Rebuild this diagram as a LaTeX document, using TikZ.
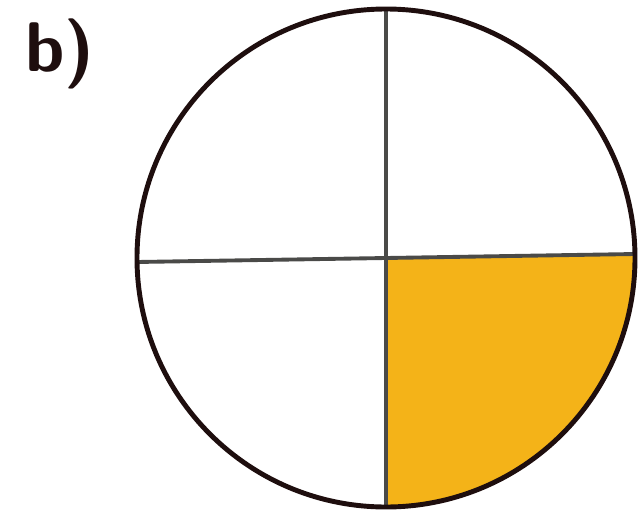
\documentclass[tikz,border=0pt]{standalone}
\usepackage{xcolor}
\usepackage{tikz}
\usetikzlibrary{positioning, calc}

\definecolor{quarterfill}{HTML}{F4B318}
\definecolor{crossline}{HTML}{4A4A48}
\definecolor{rimline}{HTML}{1E0E0E}

\begin{document}
\begin{tikzpicture}[
  x=0.02cm, y=-0.02cm,
  rim/.style={draw=rimline, line width=2.8pt},
  cross/.style={draw=crossline, line width=2.2pt},
  tag/.style={font=\fontsize{40}{40}\selectfont\sffamily\bfseries, text=rimline, inner sep=0pt, anchor=north west}
]
\useasboundingbox (0,0) rectangle (639,514);

\coordinate (c) at (386,258);
\coordinate (top) at (386,9);
\coordinate (bot) at (386,507);
\coordinate (lft) at (137,262);
\coordinate (rgt) at (635,254);

% shaded quarter
\fill[quarterfill] (c) -- (rgt) arc[start angle=-0.9, end angle=90, radius=249] -- cycle;

\draw[cross] (top) -- (bot);
\draw[cross] (lft) -- (c) -- (rgt);
\draw[rim] (c) circle[radius=249];

\node[tag] (lbl) at (25,18) {b)};
\end{tikzpicture}
\end{document}
